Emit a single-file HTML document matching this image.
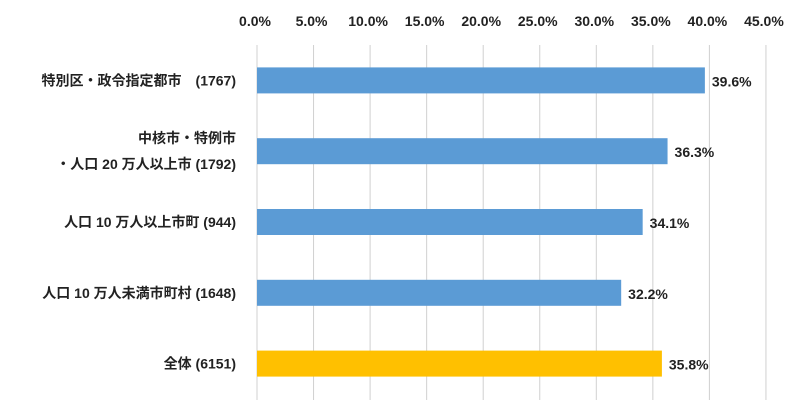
<!DOCTYPE html>
<html><head><meta charset="utf-8"><style>
body{margin:0;background:#fff;}
svg text{font-family:"Liberation Sans","Noto Sans CJK JP",sans-serif;font-weight:bold;fill:#222;}
</style></head><body>
<svg width="803" height="414">
<g id="grid"></g><g id="bars"></g><g id="labels"></g>
</svg>
<script>
const categories=[["特別区・政令指定都市　(1767)"],["中核市・特例市","・人口 20 万人以上市 (1792)"],["人口 10 万人以上市町 (944)"],["人口 10 万人未満市町村 (1648)"],["全体 (6151)"]];
const values=[39.6,36.3,34.1,32.2,35.8];
const colors=["#5b9bd5","#5b9bd5","#5b9bd5","#5b9bd5","#ffc000"];
const ticks=[0,5,10,15,20,25,30,35,40,45];
const ns="http://www.w3.org/2000/svg";
const x0=257,pxPer=11.31,top0=45,rowH=70.8,barH=26;
const X=v=>x0+v*pxPer;
const Y=i=>top0+rowH*(i+0.5);
function mk(t,a,p){const e=document.createElementNS(ns,t);for(const k in a)e.setAttribute(k,a[k]);document.getElementById(p).appendChild(e);return e;}
ticks.forEach(t=>{
 const l=mk('line',{x1:X(t),x2:X(t),y1:45,y2:400,stroke:'#d0d0d0','stroke-width':1},'grid');
 
 
 const tx=mk('text',{x:X(t)-2,y:26,'text-anchor':'middle','font-size':14},'labels');
 tx.textContent=t.toFixed(1)+'%';
 
 
});
values.forEach((v,i)=>{
 const r=mk('rect',{x:X(0),y:Y(i)-barH/2,width:X(v)-X(0),height:barH,fill:colors[i]},'bars');
 
 
 const t=mk('text',{x:X(v)+7,y:Y(i)+6,'font-size':14},'labels');
 t.textContent=v.toFixed(1)+'%';
 
 
 const lines=categories[i];
 lines.forEach((s,j)=>{
  const c=mk('text',{x:236,y:Y(i)+5+(j-(lines.length-1)/2)*26,'text-anchor':'end','font-size':14},'labels');
  c.textContent=s;
  
  
 });
});
</script>
</body></html>
